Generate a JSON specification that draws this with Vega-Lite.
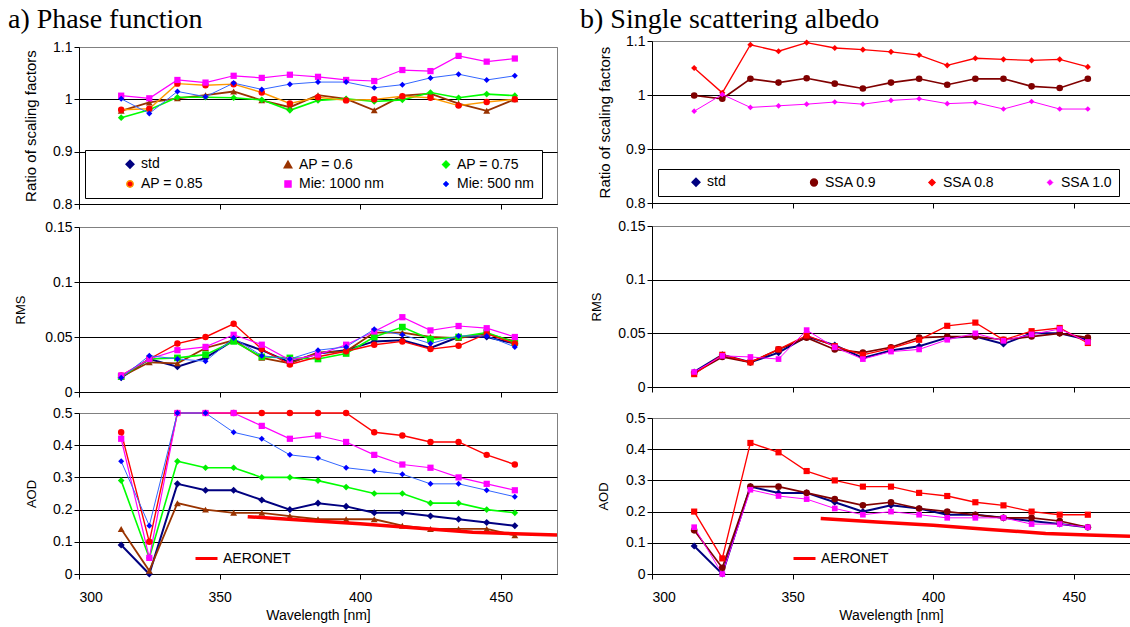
{
  "$schema": "https://vega.github.io/schema/vega-lite/v6.json",
  "padding": {"left": 8, "top": 5, "right": 0, "bottom": 0},
  "background": "white",
  "config": {
    "font": "Liberation Sans",
    "view": {"stroke": "#808080", "strokeWidth": 1},
    "axis": {"labelFontSize": 14, "labelColor": "black", "titleColor": "black", "titleFontWeight": "normal", "titleFontSize": 13, "domainColor": "black", "tickColor": "black", "tickSize": 5, "labelFont": "Liberation Sans", "titleFont": "Liberation Sans"},
    "axisX": {"grid": false, "labelPadding": 11, "titlePadding": 4},
    "axisY": {"labelPadding": 2},
    "legend": {"labelFontSize": 14, "labelColor": "black", "labelFont": "Liberation Sans", "gridAlign": "all", "symbolSize": 400},
    "title": {"font": "Liberation Serif", "fontSize": 28, "fontWeight": "normal", "anchor": "start", "frame": "group", "color": "black", "baseline": "alphabetic"}
  },
  "datasets": {
    "ratio_a": [
      {"wl":315,"ap06":0.978,"ap075":0.965,"ap085":0.980,"mie1000":1.007,"mie500":1.001},
      {"wl":325,"ap06":0.994,"ap075":0.980,"ap085":0.982,"mie1000":1.002,"mie500":0.973},
      {"wl":335,"ap06":1.002,"ap075":1.004,"ap085":1.030,"mie1000":1.037,"mie500":1.015},
      {"wl":345,"ap06":1.008,"ap075":1.004,"ap085":1.027,"mie1000":1.032,"mie500":1.005},
      {"wl":355,"ap06":1.015,"ap075":1.003,"ap085":1.029,"mie1000":1.045,"mie500":1.031},
      {"wl":365,"ap06":0.998,"ap075":0.999,"ap085":1.013,"mie1000":1.041,"mie500":1.019},
      {"wl":375,"ap06":0.985,"ap075":0.979,"ap085":0.992,"mie1000":1.047,"mie500":1.029},
      {"wl":385,"ap06":1.008,"ap075":0.998,"ap085":1.004,"mie1000":1.043,"mie500":1.033},
      {"wl":395,"ap06":1.001,"ap075":1.001,"ap085":0.998,"mie1000":1.037,"mie500":1.033},
      {"wl":405,"ap06":0.979,"ap075":0.996,"ap085":1.000,"mie1000":1.035,"mie500":1.022},
      {"wl":415,"ap06":1.007,"ap075":0.999,"ap085":1.006,"mie1000":1.056,"mie500":1.028},
      {"wl":425,"ap06":1.011,"ap075":1.013,"ap085":1.003,"mie1000":1.054,"mie500":1.041},
      {"wl":435,"ap06":0.992,"ap075":1.003,"ap085":0.988,"mie1000":1.083,"mie500":1.048},
      {"wl":445,"ap06":0.978,"ap075":1.010,"ap085":0.995,"mie1000":1.072,"mie500":1.037},
      {"wl":455,"ap06":1.000,"ap075":1.007,"ap085":1.000,"mie1000":1.078,"mie500":1.045}
    ],
    "rms_a": [
      {"wl":315,"std":0.013,"ap06":0.014,"ap075":0.014,"ap085":0.015,"mie1000":0.015,"mie500":0.013},
      {"wl":325,"std":0.030,"ap06":0.027,"ap075":0.030,"ap085":0.030,"mie1000":0.030,"mie500":0.033},
      {"wl":335,"std":0.023,"ap06":0.026,"ap075":0.031,"ap085":0.044,"mie1000":0.038,"mie500":0.030},
      {"wl":345,"std":0.031,"ap06":0.040,"ap075":0.034,"ap085":0.050,"mie1000":0.041,"mie500":0.028},
      {"wl":355,"std":0.047,"ap06":0.047,"ap075":0.046,"ap085":0.062,"mie1000":0.052,"mie500":0.049},
      {"wl":365,"std":0.038,"ap06":0.031,"ap075":0.032,"ap085":0.039,"mie1000":0.043,"mie500":0.033},
      {"wl":375,"std":0.027,"ap06":0.026,"ap075":0.031,"ap085":0.025,"mie1000":0.029,"mie500":0.030},
      {"wl":385,"std":0.035,"ap06":0.036,"ap075":0.030,"ap085":0.032,"mie1000":0.034,"mie500":0.038},
      {"wl":395,"std":0.038,"ap06":0.037,"ap075":0.035,"ap085":0.037,"mie1000":0.043,"mie500":0.041},
      {"wl":405,"std":0.046,"ap06":0.054,"ap075":0.050,"ap085":0.043,"mie1000":0.055,"mie500":0.057},
      {"wl":415,"std":0.047,"ap06":0.054,"ap075":0.059,"ap085":0.046,"mie1000":0.068,"mie500":0.052},
      {"wl":425,"std":0.040,"ap06":0.050,"ap075":0.048,"ap085":0.039,"mie1000":0.056,"mie500":0.044},
      {"wl":435,"std":0.050,"ap06":0.049,"ap075":0.050,"ap085":0.042,"mie1000":0.060,"mie500":0.051},
      {"wl":445,"std":0.050,"ap06":0.053,"ap075":0.054,"ap085":0.053,"mie1000":0.058,"mie500":0.051},
      {"wl":455,"std":0.044,"ap06":0.046,"ap075":0.045,"ap085":0.044,"mie1000":0.050,"mie500":0.041}
    ],
    "aod_a": [
      {"wl":315,"std":0.09,"ap06":0.14,"ap075":0.29,"ap085":0.44,"mie1000":0.42,"mie500":0.35},
      {"wl":325,"std":0.00,"ap06":0.01,"ap075":0.05,"ap085":0.10,"mie1000":0.05,"mie500":0.15},
      {"wl":335,"std":0.28,"ap06":0.22,"ap075":0.35,"ap085":0.50,"mie1000":0.50,"mie500":0.50},
      {"wl":345,"std":0.26,"ap06":0.20,"ap075":0.33,"ap085":0.50,"mie1000":0.50,"mie500":0.50},
      {"wl":355,"std":0.26,"ap06":0.19,"ap075":0.33,"ap085":0.50,"mie1000":0.50,"mie500":0.44},
      {"wl":365,"std":0.23,"ap06":0.19,"ap075":0.30,"ap085":0.50,"mie1000":0.46,"mie500":0.42},
      {"wl":375,"std":0.20,"ap06":0.18,"ap075":0.30,"ap085":0.50,"mie1000":0.42,"mie500":0.37},
      {"wl":385,"std":0.22,"ap06":0.17,"ap075":0.29,"ap085":0.50,"mie1000":0.43,"mie500":0.36},
      {"wl":395,"std":0.21,"ap06":0.17,"ap075":0.27,"ap085":0.50,"mie1000":0.41,"mie500":0.33},
      {"wl":405,"std":0.19,"ap06":0.17,"ap075":0.25,"ap085":0.44,"mie1000":0.37,"mie500":0.32},
      {"wl":415,"std":0.19,"ap06":0.15,"ap075":0.25,"ap085":0.43,"mie1000":0.34,"mie500":0.31},
      {"wl":425,"std":0.18,"ap06":0.14,"ap075":0.22,"ap085":0.41,"mie1000":0.33,"mie500":0.28},
      {"wl":435,"std":0.17,"ap06":0.14,"ap075":0.22,"ap085":0.41,"mie1000":0.30,"mie500":0.28},
      {"wl":445,"std":0.16,"ap06":0.14,"ap075":0.20,"ap085":0.37,"mie1000":0.28,"mie500":0.26},
      {"wl":455,"std":0.15,"ap06":0.12,"ap075":0.19,"ap085":0.34,"mie1000":0.26,"mie500":0.24}
    ],
    "ratio_b": [
      {"wl":315,"ssa09":0.999,"ssa08":1.050,"ssa10":0.970},
      {"wl":325,"ssa09":0.993,"ssa08":1.004,"ssa10":1.001},
      {"wl":335,"ssa09":1.030,"ssa08":1.093,"ssa10":0.977},
      {"wl":345,"ssa09":1.023,"ssa08":1.081,"ssa10":0.980},
      {"wl":355,"ssa09":1.031,"ssa08":1.097,"ssa10":0.983},
      {"wl":365,"ssa09":1.021,"ssa08":1.087,"ssa10":0.987},
      {"wl":375,"ssa09":1.012,"ssa08":1.084,"ssa10":0.983},
      {"wl":385,"ssa09":1.023,"ssa08":1.080,"ssa10":0.990},
      {"wl":395,"ssa09":1.030,"ssa08":1.074,"ssa10":0.993},
      {"wl":405,"ssa09":1.019,"ssa08":1.055,"ssa10":0.984},
      {"wl":415,"ssa09":1.030,"ssa08":1.068,"ssa10":0.986},
      {"wl":425,"ssa09":1.030,"ssa08":1.066,"ssa10":0.974},
      {"wl":435,"ssa09":1.016,"ssa08":1.064,"ssa10":0.988},
      {"wl":445,"ssa09":1.013,"ssa08":1.066,"ssa10":0.974},
      {"wl":455,"ssa09":1.030,"ssa08":1.052,"ssa10":0.974}
    ],
    "rms_b": [
      {"wl":315,"std":0.014,"ssa09":0.013,"ssa08":0.012,"ssa10":0.014},
      {"wl":325,"std":0.030,"ssa09":0.028,"ssa08":0.030,"ssa10":0.029},
      {"wl":335,"std":0.023,"ssa09":0.023,"ssa08":0.023,"ssa10":0.028},
      {"wl":345,"std":0.032,"ssa09":0.035,"ssa08":0.035,"ssa10":0.026},
      {"wl":355,"std":0.047,"ssa09":0.046,"ssa08":0.048,"ssa10":0.053},
      {"wl":365,"std":0.039,"ssa09":0.035,"ssa08":0.038,"ssa10":0.037},
      {"wl":375,"std":0.027,"ssa09":0.032,"ssa08":0.030,"ssa10":0.026},
      {"wl":385,"std":0.034,"ssa09":0.037,"ssa08":0.036,"ssa10":0.033},
      {"wl":395,"std":0.038,"ssa09":0.046,"ssa08":0.044,"ssa10":0.035},
      {"wl":405,"std":0.046,"ssa09":0.047,"ssa08":0.057,"ssa10":0.044},
      {"wl":415,"std":0.047,"ssa09":0.047,"ssa08":0.060,"ssa10":0.050},
      {"wl":425,"std":0.040,"ssa09":0.044,"ssa08":0.044,"ssa10":0.043},
      {"wl":435,"std":0.050,"ssa09":0.047,"ssa08":0.052,"ssa10":0.049},
      {"wl":445,"std":0.050,"ssa09":0.050,"ssa08":0.055,"ssa10":0.054},
      {"wl":455,"std":0.044,"ssa09":0.046,"ssa08":0.041,"ssa10":0.042}
    ],
    "aod_b": [
      {"wl":315,"std":0.09,"ssa09":0.14,"ssa08":0.20,"ssa10":0.15},
      {"wl":325,"std":0.00,"ssa09":0.02,"ssa08":0.05,"ssa10":0.00},
      {"wl":335,"std":0.28,"ssa09":0.28,"ssa08":0.42,"ssa10":0.27},
      {"wl":345,"std":0.26,"ssa09":0.28,"ssa08":0.39,"ssa10":0.25},
      {"wl":355,"std":0.26,"ssa09":0.26,"ssa08":0.33,"ssa10":0.24},
      {"wl":365,"std":0.23,"ssa09":0.24,"ssa08":0.30,"ssa10":0.21},
      {"wl":375,"std":0.20,"ssa09":0.22,"ssa08":0.28,"ssa10":0.19},
      {"wl":385,"std":0.22,"ssa09":0.23,"ssa08":0.28,"ssa10":0.20},
      {"wl":395,"std":0.21,"ssa09":0.21,"ssa08":0.26,"ssa10":0.19},
      {"wl":405,"std":0.19,"ssa09":0.20,"ssa08":0.25,"ssa10":0.18},
      {"wl":415,"std":0.19,"ssa09":0.19,"ssa08":0.23,"ssa10":0.18},
      {"wl":425,"std":0.18,"ssa09":0.18,"ssa08":0.22,"ssa10":0.18},
      {"wl":435,"std":0.17,"ssa09":0.18,"ssa08":0.20,"ssa10":0.16},
      {"wl":445,"std":0.16,"ssa09":0.17,"ssa08":0.19,"ssa10":0.16},
      {"wl":455,"std":0.15,"ssa09":0.15,"ssa08":0.19,"ssa10":0.15}
    ],
    "aeronet": [
      {"wl":360,"v":0.178},
      {"wl":380,"v":0.167},
      {"wl":400,"v":0.156},
      {"wl":420,"v":0.143},
      {"wl":440,"v":0.130},
      {"wl":455,"v":0.125},
      {"wl":470,"v":0.121}
    ]
  },
  "bounds": "full",
  "spacing": 15,
  "resolve": {
    "scale": {"color": "independent", "fill": "independent", "shape": "independent", "size": "independent", "strokeWidth": "independent", "stroke": "independent"},
    "legend": {"color": "independent", "fill": "independent", "shape": "independent", "size": "independent", "strokeWidth": "independent", "stroke": "independent"}
  },
  "hconcat": [
    {
      "title": {"text": "a) Phase function", "dx": -71, "offset": 6},
      "bounds": "flush",
      "spacing": 0,
      "resolve": {
        "scale": {"color": "independent", "fill": "independent", "shape": "independent", "size": "independent", "strokeWidth": "independent", "stroke": "independent"},
        "legend": {"color": "independent", "fill": "independent", "shape": "independent", "size": "independent", "strokeWidth": "independent", "stroke": "independent"}
      },
      "vconcat": [
        {
          "width": 478, "height": 6,
          "data": {"values": [{}]},
          "mark": {"type": "point", "opacity": 0},
          "encoding": {},
          "view": {"stroke": null}
        },
        {
          "bounds": "flush",
          "spacing": 23,
          "resolve": {
            "scale": {"color": "independent", "fill": "independent", "shape": "independent", "size": "independent", "strokeWidth": "independent", "stroke": "independent"},
            "legend": {"color": "independent", "fill": "independent", "shape": "independent", "size": "independent", "strokeWidth": "independent", "stroke": "independent"}
          },
          "vconcat": [
            {
              "width": 478, "height": 157,
              "data": {"name": "ratio_a"},
              "transform": [{"fold": ["ap06", "ap075", "ap085", "mie1000", "mie500"], "as": ["s", "v"]}],
              "layer": [
                {
                  "mark": {"type": "line"},
                  "encoding": {
                    "x": {"field": "wl", "type": "quantitative", "scale": {"domain": [300, 470], "nice": false}, "axis": {"values": [300, 350, 400, 450], "labels": false, "title": null, "grid": false}},
                    "y": {"field": "v", "type": "quantitative", "scale": {"domain": [0.8, 1.1], "nice": false, "zero": false}, "axis": {"values": [0.8, 0.9, 1, 1.1], "format": "~g", "grid": true, "gridColor": {"condition": {"test": "datum.value > 1.05", "value": "#808080"}, "value": "black"}, "title": "Ratio of scaling factors", "titleFontSize": 15, "titleX": -41, "titleY": 78.5}},
                    "color": {
                      "field": "s", "type": "nominal",
                      "scale": {"domain": ["std", "ap06", "ap075", "ap085", "mie1000", "mie500"], "range": ["#000080", "#993300", "#00ff00", "#ff9900", "#ff00ff", "#3366ff"]},
                      "legend": {
                        "orient": "none", "legendX": 6, "legendY": 103, "title": null, "columns": 3, "direction": "horizontal",
                        "strokeColor": "black", "fillColor": "white", "padding": 7, "rowPadding": 5, "columnPadding": 24, "gridAlign": "all",
                        "symbolOffset": 31, "symbolSize": 400, "labelOffset": 4, "labelFontSize": 14,
                        "labelExpr": "{'std':'std','ap06':'AP = 0.6','ap075':'AP = 0.75','ap085':'AP = 0.85','mie1000':'Mie: 1000 nm','mie500':'Mie: 500 nm'}[datum.value]",
                        "encode": {"symbols": {"update": {
                          "shape": {"signal": "{'std':'M-1,0L1,0M0,-0.45L0.45,0L0,0.45L-0.45,0Z','ap06':'M-1,0L1,0M0,-0.38L0.38,0.3L-0.38,0.3Z','ap075':'M-1,0L1,0M0,-0.32L0.32,0L0,0.32L-0.32,0Z','ap085':'M-1,0L1,0M-0.3,0A0.3,0.3,0,1,0,0.3,0A0.3,0.3,0,1,0,-0.3,0Z','mie1000':'M-1,0L1,0M-0.32,-0.32L0.32,-0.32L0.32,0.32L-0.32,0.32Z','mie500':'M-1,0L1,0M0,-0.3L0.3,0L0,0.3L-0.3,0Z'}[datum.value]"},
                          "size": {"value": 400},
                          "fill": {"signal": "{'std':'#000080','ap06':'#993300','ap075':'#00ee00','ap085':'#ff0000','mie1000':'#ff00ff','mie500':'#0000ff'}[datum.value]"},
                          "stroke": {"signal": "{'std':'#000080','ap06':'#993300','ap075':'#00ff00','ap085':'#ff9900','mie1000':'#ff00ff','mie500':'#3366ff'}[datum.value]"},
                          "strokeWidth": {"signal": "datum.value === 'std' ? 2 : 1.2"},
                          "opacity": {"value": 1}
                        }}}
                      }
                    },
                    "strokeWidth": {"field": "s", "type": "nominal", "scale": {"domain": ["std", "ap06", "ap075", "ap085", "mie1000", "mie500"], "range": [2, 1, 1, 1, 1, 1]}, "legend": null}
                  }
                },
                {
                  "mark": {"type": "point", "filled": true, "opacity": 1},
                  "encoding": {
                    "x": {"field": "wl", "type": "quantitative"},
                    "y": {"field": "v", "type": "quantitative"},
                    "fill": {"field": "s", "type": "nominal", "scale": {"domain": ["std", "ap06", "ap075", "ap085", "mie1000", "mie500"], "range": ["#000080", "#993300", "#00ee00", "#ff0000", "#ff00ff", "#0000ff"]}, "legend": null},
                    "shape": {"field": "s", "type": "nominal", "scale": {"domain": ["std", "ap06", "ap075", "ap085", "mie1000", "mie500"], "range": ["diamond", "triangle-up", "diamond", "circle", "square", "diamond"]}, "legend": null},
                    "size": {"field": "s", "type": "nominal", "scale": {"domain": ["std", "ap06", "ap075", "ap085", "mie1000", "mie500"], "range": [50, 36, 30, 32, 36, 26]}, "legend": null}
                  }
                }
              ]
            },
            {
              "bounds": "flush",
              "spacing": 21,
              "resolve": {
                "scale": {"color": "independent", "fill": "independent", "shape": "independent", "size": "independent", "strokeWidth": "independent", "stroke": "independent"},
                "legend": {"color": "independent", "fill": "independent", "shape": "independent", "size": "independent", "strokeWidth": "independent", "stroke": "independent"}
              },
              "vconcat": [
                {
                  "width": 478, "height": 165,
                  "data": {"name": "rms_a"},
                  "transform": [{"fold": ["std", "ap06", "ap075", "ap085", "mie1000", "mie500"], "as": ["s", "v"]}],
                  "layer": [
                    {
                      "mark": {"type": "line"},
                      "encoding": {
                        "x": {"field": "wl", "type": "quantitative", "scale": {"domain": [300, 470], "nice": false}, "axis": {"values": [300, 350, 400, 450], "labels": false, "title": null, "grid": false}},
                        "y": {"field": "v", "type": "quantitative", "scale": {"domain": [0, 0.15], "nice": false}, "axis": {"values": [0, 0.05, 0.1, 0.15], "format": "~g", "grid": true, "gridColor": {"condition": {"test": "datum.value > 0.14", "value": "#808080"}, "value": "black"}, "title": "RMS", "titleX": -52, "titleY": 82.5}},
                        "color": {"field": "s", "type": "nominal", "scale": {"domain": ["std", "ap06", "ap075", "ap085", "mie1000", "mie500"], "range": ["#000080", "#993300", "#00ff00", "#ff0000", "#ff00ff", "#3366ff"]}, "legend": null},
                        "strokeWidth": {"field": "s", "type": "nominal", "scale": {"domain": ["std", "ap06", "ap075", "ap085", "mie1000", "mie500"], "range": [2, 1, 1, 1, 1, 1]}, "legend": null}
                      }
                    },
                    {
                      "mark": {"type": "point", "filled": true, "opacity": 1},
                      "encoding": {
                        "x": {"field": "wl", "type": "quantitative"},
                        "y": {"field": "v", "type": "quantitative"},
                        "fill": {"field": "s", "type": "nominal", "scale": {"domain": ["std", "ap06", "ap075", "ap085", "mie1000", "mie500"], "range": ["#000080", "#993300", "#00ee00", "#ff0000", "#ff00ff", "#0000ff"]}, "legend": null},
                        "shape": {"field": "s", "type": "nominal", "scale": {"domain": ["std", "ap06", "ap075", "ap085", "mie1000", "mie500"], "range": ["diamond", "triangle-up", "square", "circle", "square", "diamond"]}, "legend": null},
                        "size": {"field": "s", "type": "nominal", "scale": {"domain": ["std", "ap06", "ap075", "ap085", "mie1000", "mie500"], "range": [50, 36, 30, 32, 36, 26]}, "legend": null}
                      }
                    }
                  ]
                },
                {
                  "width": 478, "height": 161,
                  "layer": [
                    {
                      "data": {"name": "aod_a"},
                      "transform": [{"fold": ["std", "ap06", "ap075", "ap085", "mie1000", "mie500"], "as": ["s", "v"]}],
                      "mark": {"type": "line"},
                      "encoding": {
                        "x": {"field": "wl", "type": "quantitative", "scale": {"domain": [300, 470], "nice": false}, "axis": {"values": [300, 350, 400, 450], "title": "Wavelength [nm]", "titleFontSize": 14, "grid": false}},
                        "y": {"field": "v", "type": "quantitative", "scale": {"domain": [0, 0.5], "nice": false}, "axis": {"values": [0, 0.1, 0.2, 0.3, 0.4, 0.5], "format": "~g", "grid": true, "gridColor": {"condition": {"test": "datum.value > 0.45", "value": "#808080"}, "value": "black"}, "title": "AOD", "titleX": -41, "titleY": 80.5}},
                        "color": {"field": "s", "type": "nominal", "scale": {"domain": ["std", "ap06", "ap075", "ap085", "mie1000", "mie500"], "range": ["#000080", "#993300", "#00ff00", "#ff0000", "#ff00ff", "#3366ff"]}, "legend": null},
                        "strokeWidth": {"field": "s", "type": "nominal", "scale": {"domain": ["std", "ap06", "ap075", "ap085", "mie1000", "mie500"], "range": [2, 1, 1, 1, 1, 1]}, "legend": null}
                      }
                    },
                    {
                      "data": {"name": "aod_a"},
                      "transform": [{"fold": ["std", "ap06", "ap075", "ap085", "mie1000", "mie500"], "as": ["s", "v"]}],
                      "mark": {"type": "point", "filled": true, "opacity": 1},
                      "encoding": {
                        "x": {"field": "wl", "type": "quantitative", "scale": {"domain": [300, 470], "nice": false}, "axis": {"values": [300, 350, 400, 450], "title": "Wavelength [nm]", "titleFontSize": 14, "grid": false}},
                        "y": {"field": "v", "type": "quantitative", "scale": {"domain": [0, 0.5], "nice": false}, "axis": {"values": [0, 0.1, 0.2, 0.3, 0.4, 0.5], "format": "~g", "grid": true, "gridColor": {"condition": {"test": "datum.value > 0.45", "value": "#808080"}, "value": "black"}, "title": "AOD", "titleX": -41, "titleY": 80.5}},
                        "fill": {"field": "s", "type": "nominal", "scale": {"domain": ["std", "ap06", "ap075", "ap085", "mie1000", "mie500"], "range": ["#000080", "#993300", "#00ee00", "#ff0000", "#ff00ff", "#0000ff"]}, "legend": null},
                        "shape": {"field": "s", "type": "nominal", "scale": {"domain": ["std", "ap06", "ap075", "ap085", "mie1000", "mie500"], "range": ["diamond", "triangle-up", "diamond", "circle", "square", "diamond"]}, "legend": null},
                        "size": {"field": "s", "type": "nominal", "scale": {"domain": ["std", "ap06", "ap075", "ap085", "mie1000", "mie500"], "range": [50, 36, 30, 32, 36, 26]}, "legend": null}
                      }
                    },
                    {
                      "data": {"name": "aeronet"},
                      "mark": {"type": "line", "strokeWidth": 3.5},
                      "encoding": {
                        "x": {"field": "wl", "type": "quantitative", "scale": {"domain": [300, 470], "nice": false}, "axis": {"values": [300, 350, 400, 450], "title": "Wavelength [nm]", "titleFontSize": 14, "grid": false}},
                        "y": {"field": "v", "type": "quantitative", "scale": {"domain": [0, 0.5], "nice": false}, "axis": {"values": [0, 0.1, 0.2, 0.3, 0.4, 0.5], "format": "~g", "grid": true, "gridColor": {"condition": {"test": "datum.value > 0.45", "value": "#808080"}, "value": "black"}, "title": "AOD", "titleX": -41, "titleY": 80.5}},
                        "stroke": {"datum": "AERONET", "scale": {"range": ["#ff0000"]}, "legend": {"orient": "none", "legendX": 115, "legendY": 133, "title": null, "symbolType": "stroke", "symbolSize": 484, "symbolStrokeWidth": 3, "labelFontSize": 14, "labelOffset": 4, "padding": 0}}
                      }
                    }
                  ]
                }
              ]
            }
          ]
        }
      ]
    },
    {
      "title": {"text": "b) Single scattering albedo", "dx": -72, "offset": 0},
      "bounds": "flush",
      "spacing": 23,
      "resolve": {
        "scale": {"color": "independent", "fill": "independent", "shape": "independent", "size": "independent", "strokeWidth": "independent", "stroke": "independent"},
        "legend": {"color": "independent", "fill": "independent", "shape": "independent", "size": "independent", "strokeWidth": "independent", "stroke": "independent"}
      },
      "vconcat": [
        {
          "width": 478, "height": 162,
          "data": {"name": "ratio_b"},
          "transform": [{"fold": ["ssa09", "ssa08", "ssa10"], "as": ["s", "v"]}],
          "layer": [
            {
              "mark": {"type": "line"},
              "encoding": {
                "x": {"field": "wl", "type": "quantitative", "scale": {"domain": [300, 470], "nice": false}, "axis": {"values": [300, 350, 400, 450], "labels": false, "title": null, "grid": false}},
                "y": {"field": "v", "type": "quantitative", "scale": {"domain": [0.8, 1.1], "nice": false, "zero": false}, "axis": {"values": [0.8, 0.9, 1, 1.1], "format": "~g", "grid": true, "gridColor": {"condition": {"test": "datum.value > 1.05", "value": "#808080"}, "value": "black"}, "title": "Ratio of scaling factors", "titleFontSize": 15, "titleX": -40, "titleY": 81}},
                "color": {
                  "field": "s", "type": "nominal",
                  "scale": {"domain": ["std", "ssa09", "ssa08", "ssa10"], "range": ["#000080", "#800000", "#ff0000", "#ff00ff"]},
                  "legend": {
                    "orient": "none", "legendX": 6, "legendY": 128, "title": null, "columns": 4, "direction": "horizontal",
                    "strokeColor": "black", "fillColor": "white", "padding": 6, "rowPadding": 5, "columnPadding": 23, "gridAlign": "all",
                    "symbolOffset": 25, "symbolSize": 400, "labelOffset": 4, "labelFontSize": 14,
                    "labelExpr": "{'std':'std','ssa09':'SSA 0.9','ssa08':'SSA 0.8','ssa10':'SSA 1.0'}[datum.value]",
                    "encode": {"symbols": {"update": {
                      "shape": {"signal": "{'std':'M-1,0L1,0M0,-0.45L0.45,0L0,0.45L-0.45,0Z','ssa09':'M-1,0L1,0M-0.3,0A0.3,0.3,0,1,0,0.3,0A0.3,0.3,0,1,0,-0.3,0Z','ssa08':'M-1,0L1,0M0,-0.3L0.3,0L0,0.3L-0.3,0Z','ssa10':'M-1,0L1,0M0,-0.3L0.3,0L0,0.3L-0.3,0Z'}[datum.value]"},
                      "size": {"value": 400},
                      "fill": {"signal": "{'std':'#000080','ssa09':'#800000','ssa08':'#ff0000','ssa10':'#ff00ff'}[datum.value]"},
                      "stroke": {"signal": "{'std':'#000080','ssa09':'#800000','ssa08':'#ff0000','ssa10':'#ff00ff'}[datum.value]"},
                      "strokeWidth": {"signal": "datum.value === 'std' ? 2 : 1.2"},
                      "opacity": {"value": 1}
                    }}}
                  }
                },
                "strokeWidth": {"field": "s", "type": "nominal", "scale": {"domain": ["std", "ssa09", "ssa08", "ssa10"], "range": [2, 1, 1, 1]}, "legend": null}
              }
            },
            {
              "mark": {"type": "point", "filled": true, "opacity": 1},
              "encoding": {
                "x": {"field": "wl", "type": "quantitative"},
                "y": {"field": "v", "type": "quantitative"},
                "fill": {"field": "s", "type": "nominal", "scale": {"domain": ["std", "ssa09", "ssa08", "ssa10"], "range": ["#000080", "#800000", "#ff0000", "#ff00ff"]}, "legend": null},
                "shape": {"field": "s", "type": "nominal", "scale": {"domain": ["std", "ssa09", "ssa08", "ssa10"], "range": ["diamond", "circle", "diamond", "diamond"]}, "legend": null},
                "size": {"field": "s", "type": "nominal", "scale": {"domain": ["std", "ssa09", "ssa08", "ssa10"], "range": [50, 32, 28, 28]}, "legend": null}
              }
            }
          ]
        },
        {
          "bounds": "flush",
          "spacing": 31,
          "resolve": {
            "scale": {"color": "independent", "fill": "independent", "shape": "independent", "size": "independent", "strokeWidth": "independent", "stroke": "independent"},
            "legend": {"color": "independent", "fill": "independent", "shape": "independent", "size": "independent", "strokeWidth": "independent", "stroke": "independent"}
          },
          "vconcat": [
            {
              "width": 478, "height": 161,
              "data": {"name": "rms_b"},
              "transform": [{"fold": ["std", "ssa09", "ssa08", "ssa10"], "as": ["s", "v"]}],
              "layer": [
                {
                  "mark": {"type": "line"},
                  "encoding": {
                    "x": {"field": "wl", "type": "quantitative", "scale": {"domain": [300, 470], "nice": false}, "axis": {"values": [300, 350, 400, 450], "labels": false, "title": null, "grid": false}},
                    "y": {"field": "v", "type": "quantitative", "scale": {"domain": [0, 0.15], "nice": false}, "axis": {"values": [0, 0.05, 0.1, 0.15], "format": "~g", "grid": true, "gridColor": {"condition": {"test": "datum.value > 0.14", "value": "#808080"}, "value": "black"}, "title": "RMS", "titleX": -49, "titleY": 80.5}},
                    "color": {"field": "s", "type": "nominal", "scale": {"domain": ["std", "ssa09", "ssa08", "ssa10"], "range": ["#000080", "#800000", "#ff0000", "#ff00ff"]}, "legend": null},
                    "strokeWidth": {"field": "s", "type": "nominal", "scale": {"domain": ["std", "ssa09", "ssa08", "ssa10"], "range": [2, 1, 1, 1]}, "legend": null}
                  }
                },
                {
                  "mark": {"type": "point", "filled": true, "opacity": 1},
                  "encoding": {
                    "x": {"field": "wl", "type": "quantitative"},
                    "y": {"field": "v", "type": "quantitative"},
                    "fill": {"field": "s", "type": "nominal", "scale": {"domain": ["std", "ssa09", "ssa08", "ssa10"], "range": ["#000080", "#800000", "#ff0000", "#ff00ff"]}, "legend": null},
                    "shape": {"field": "s", "type": "nominal", "scale": {"domain": ["std", "ssa09", "ssa08", "ssa10"], "range": ["diamond", "circle", "square", "square"]}, "legend": null},
                    "size": {"field": "s", "type": "nominal", "scale": {"domain": ["std", "ssa09", "ssa08", "ssa10"], "range": [50, 32, 36, 36]}, "legend": null}
                  }
                }
              ]
            },
            {
              "width": 478, "height": 156,
              "layer": [
                {
                  "data": {"name": "aod_b"},
                  "transform": [{"fold": ["std", "ssa09", "ssa08", "ssa10"], "as": ["s", "v"]}],
                  "mark": {"type": "line"},
                  "encoding": {
                    "x": {"field": "wl", "type": "quantitative", "scale": {"domain": [300, 470], "nice": false}, "axis": {"values": [300, 350, 400, 450], "title": "Wavelength [nm]", "titleFontSize": 14, "grid": false}},
                    "y": {"field": "v", "type": "quantitative", "scale": {"domain": [0, 0.5], "nice": false}, "axis": {"values": [0, 0.1, 0.2, 0.3, 0.4, 0.5], "format": "~g", "grid": true, "gridColor": {"condition": {"test": "datum.value > 0.45", "value": "#808080"}, "value": "black"}, "title": "AOD", "titleX": -42, "titleY": 78}},
                    "color": {"field": "s", "type": "nominal", "scale": {"domain": ["std", "ssa09", "ssa08", "ssa10"], "range": ["#000080", "#800000", "#ff0000", "#ff00ff"]}, "legend": null},
                    "strokeWidth": {"field": "s", "type": "nominal", "scale": {"domain": ["std", "ssa09", "ssa08", "ssa10"], "range": [2, 1, 1, 1]}, "legend": null}
                  }
                },
                {
                  "data": {"name": "aod_b"},
                  "transform": [{"fold": ["std", "ssa09", "ssa08", "ssa10"], "as": ["s", "v"]}],
                  "mark": {"type": "point", "filled": true, "opacity": 1},
                  "encoding": {
                    "x": {"field": "wl", "type": "quantitative", "scale": {"domain": [300, 470], "nice": false}, "axis": {"values": [300, 350, 400, 450], "title": "Wavelength [nm]", "titleFontSize": 14, "grid": false}},
                    "y": {"field": "v", "type": "quantitative", "scale": {"domain": [0, 0.5], "nice": false}, "axis": {"values": [0, 0.1, 0.2, 0.3, 0.4, 0.5], "format": "~g", "grid": true, "gridColor": {"condition": {"test": "datum.value > 0.45", "value": "#808080"}, "value": "black"}, "title": "AOD", "titleX": -42, "titleY": 78}},
                    "fill": {"field": "s", "type": "nominal", "scale": {"domain": ["std", "ssa09", "ssa08", "ssa10"], "range": ["#000080", "#800000", "#ff0000", "#ff00ff"]}, "legend": null},
                    "shape": {"field": "s", "type": "nominal", "scale": {"domain": ["std", "ssa09", "ssa08", "ssa10"], "range": ["diamond", "circle", "square", "square"]}, "legend": null},
                    "size": {"field": "s", "type": "nominal", "scale": {"domain": ["std", "ssa09", "ssa08", "ssa10"], "range": [50, 32, 36, 36]}, "legend": null}
                  }
                },
                {
                  "data": {"name": "aeronet"},
                  "mark": {"type": "line", "strokeWidth": 3.5},
                  "encoding": {
                    "x": {"field": "wl", "type": "quantitative", "scale": {"domain": [300, 470], "nice": false}, "axis": {"values": [300, 350, 400, 450], "title": "Wavelength [nm]", "titleFontSize": 14, "grid": false}},
                    "y": {"field": "v", "type": "quantitative", "scale": {"domain": [0, 0.5], "nice": false}, "axis": {"values": [0, 0.1, 0.2, 0.3, 0.4, 0.5], "format": "~g", "grid": true, "gridColor": {"condition": {"test": "datum.value > 0.45", "value": "#808080"}, "value": "black"}, "title": "AOD", "titleX": -42, "titleY": 78}},
                    "stroke": {"datum": "AERONET", "scale": {"range": ["#ff0000"]}, "legend": {"orient": "none", "legendX": 140, "legendY": 128, "title": null, "symbolType": "stroke", "symbolSize": 484, "symbolStrokeWidth": 3, "labelFontSize": 14, "labelOffset": 4, "padding": 0}}
                  }
                }
              ]
            }
          ]
        }
      ]
    }
  ]
}
